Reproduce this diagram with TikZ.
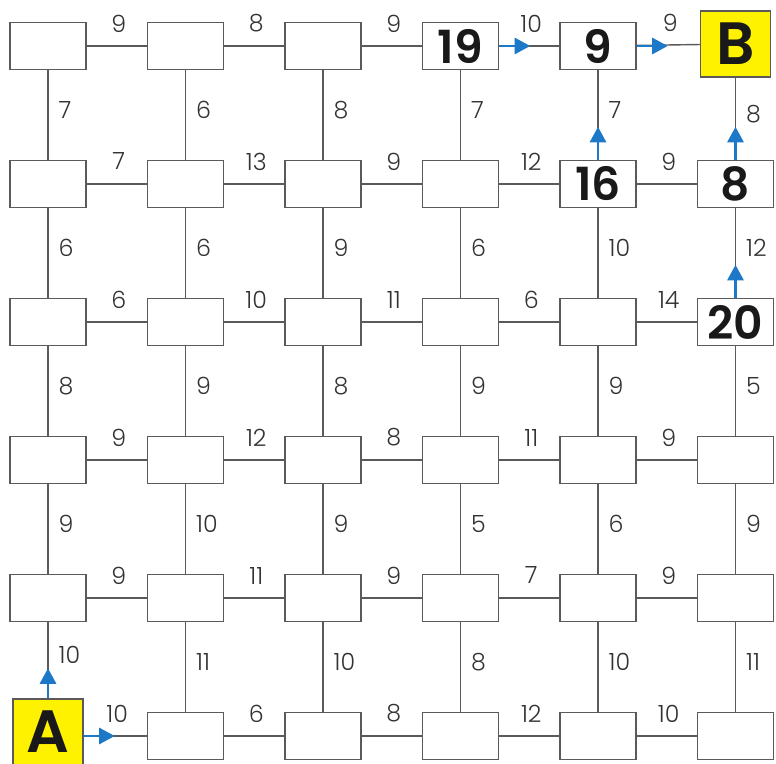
\documentclass[tikz,border=0pt]{standalone}
\usepackage{fontspec}
\setmainfont{Poppins}[UprightFont=*-Light, BoldFont=*-SemiBold]
\usetikzlibrary{arrows.meta}
\definecolor{pathblue}{HTML}{1E78C8}
\definecolor{gridgray}{HTML}{5A5A5A}
\definecolor{goalyellow}{HTML}{FFF200}

\begin{document}
\begin{tikzpicture}[
    cell/.style={draw=gridgray, line width=0.8pt, fill=white,
        minimum width=1.52cm, minimum height=0.94cm, inner sep=0pt,
        font=\fontsize{26}{28}\selectfont\bfseries, text=black!90},
    goal/.style={cell, fill=goalyellow, minimum width=1.4cm, minimum height=1.32cm,
        font=\fontsize{34}{38}\selectfont\bfseries},
    edge/.style={draw=gridgray, line width=0.8pt},
    hw/.style={inner sep=0pt, anchor=center, yshift=0.45cm, xshift=0.04cm,
        font=\fontsize{13.5}{15}\selectfont, text=black!80},
    vw/.style={inner sep=0pt, anchor=west, xshift=0.2cm, yshift=0.1cm,
        font=\fontsize{13.5}{15}\selectfont, text=black!80},
    route/.style={draw=pathblue, line width=1.6pt, -{Triangle[length=3.1mm,width=3.2mm]}}
    ]
    \useasboundingbox (0,0) rectangle (15.52,15.26);

    % top row
    \node[cell] (a6) at (0.96,14.34) {};
    \node[cell] (b6) at (3.71,14.34) {};
    \node[cell] (c6) at (6.46,14.34) {};
    \node[cell] (d6) at (9.21,14.34) {19};
    \node[cell] (e6) at (11.96,14.34) {9};
    \node[goal] (f6) at (14.71,14.38) {B};

    \node[cell] (a5) at (0.96,11.58) {};
    \node[cell] (b5) at (3.71,11.58) {};
    \node[cell] (c5) at (6.46,11.58) {};
    \node[cell] (d5) at (9.21,11.58) {};
    \node[cell] (e5) at (11.96,11.58) {16};
    \node[cell] (f5) at (14.71,11.58) {8};

    \node[cell] (a4) at (0.96,8.82) {};
    \node[cell] (b4) at (3.71,8.82) {};
    \node[cell] (c4) at (6.46,8.82) {};
    \node[cell] (d4) at (9.21,8.82) {};
    \node[cell] (e4) at (11.96,8.82) {};
    \node[cell] (f4) at (14.71,8.82) {20};

    \node[cell] (a3) at (0.96,6.06) {};
    \node[cell] (b3) at (3.71,6.06) {};
    \node[cell] (c3) at (6.46,6.06) {};
    \node[cell] (d3) at (9.21,6.06) {};
    \node[cell] (e3) at (11.96,6.06) {};
    \node[cell] (f3) at (14.71,6.06) {};

    \node[cell] (a2) at (0.96,3.30) {};
    \node[cell] (b2) at (3.71,3.30) {};
    \node[cell] (c2) at (6.46,3.30) {};
    \node[cell] (d2) at (9.21,3.30) {};
    \node[cell] (e2) at (11.96,3.30) {};
    \node[cell] (f2) at (14.71,3.30) {};

    % bottom row
    \node[goal] (a1) at (0.96,0.62) {A};
    \node[cell] (b1) at (3.71,0.54) {};
    \node[cell] (c1) at (6.46,0.54) {};
    \node[cell] (d1) at (9.21,0.54) {};
    \node[cell] (e1) at (11.96,0.54) {};
    \node[cell] (f1) at (14.71,0.54) {};

    % horizontal edges
    \draw[edge] (a6) -- node[hw]{9} (b6);
    \draw[edge] (b6) -- node[hw]{8} (c6);
    \draw[edge] (c6) -- node[hw]{9} (d6);
    \draw[edge] (d6) -- node[hw]{10} (e6);
    \draw[edge] (e6) -- node[hw]{9} (f6);

    \draw[edge] (a5) -- node[hw]{7} (b5);
    \draw[edge] (b5) -- node[hw]{13} (c5);
    \draw[edge] (c5) -- node[hw]{9} (d5);
    \draw[edge] (d5) -- node[hw]{12} (e5);
    \draw[edge] (e5) -- node[hw]{9} (f5);

    \draw[edge] (a4) -- node[hw]{6} (b4);
    \draw[edge] (b4) -- node[hw]{10} (c4);
    \draw[edge] (c4) -- node[hw]{11} (d4);
    \draw[edge] (d4) -- node[hw]{6} (e4);
    \draw[edge] (e4) -- node[hw]{14} (f4);

    \draw[edge] (a3) -- node[hw]{9} (b3);
    \draw[edge] (b3) -- node[hw]{12} (c3);
    \draw[edge] (c3) -- node[hw]{8} (d3);
    \draw[edge] (d3) -- node[hw]{11} (e3);
    \draw[edge] (e3) -- node[hw]{9} (f3);

    \draw[edge] (a2) -- node[hw]{9} (b2);
    \draw[edge] (b2) -- node[hw]{11} (c2);
    \draw[edge] (c2) -- node[hw]{9} (d2);
    \draw[edge] (d2) -- node[hw]{7} (e2);
    \draw[edge] (e2) -- node[hw]{9} (f2);

    \draw[edge] (a1.east |- b1) -- node[hw]{10} (b1);
    \draw[edge] (b1) -- node[hw]{6} (c1);
    \draw[edge] (c1) -- node[hw]{8} (d1);
    \draw[edge] (d1) -- node[hw]{12} (e1);
    \draw[edge] (e1) -- node[hw]{10} (f1);

    % vertical edges
    \draw[edge] (a5) -- node[vw]{7} (a6);
    \draw[edge] (b5) -- node[vw]{6} (b6);
    \draw[edge] (c5) -- node[vw]{8} (c6);
    \draw[edge] (d5) -- node[vw]{7} (d6);
    \draw[edge] (e5) -- node[vw]{7} (e6);
    \draw[edge] (f5) -- node[vw]{8} (f6);

    \draw[edge] (a4) -- node[vw]{6} (a5);
    \draw[edge] (b4) -- node[vw]{6} (b5);
    \draw[edge] (c4) -- node[vw]{9} (c5);
    \draw[edge] (d4) -- node[vw]{6} (d5);
    \draw[edge] (e4) -- node[vw]{10} (e5);
    \draw[edge] (f4) -- node[vw]{12} (f5);

    \draw[edge] (a3) -- node[vw]{8} (a4);
    \draw[edge] (b3) -- node[vw]{9} (b4);
    \draw[edge] (c3) -- node[vw]{8} (c4);
    \draw[edge] (d3) -- node[vw]{9} (d4);
    \draw[edge] (e3) -- node[vw]{9} (e4);
    \draw[edge] (f3) -- node[vw]{5} (f4);

    \draw[edge] (a2) -- node[vw]{9} (a3);
    \draw[edge] (b2) -- node[vw]{10} (b3);
    \draw[edge] (c2) -- node[vw]{9} (c3);
    \draw[edge] (d2) -- node[vw]{5} (d3);
    \draw[edge] (e2) -- node[vw]{6} (e3);
    \draw[edge] (f2) -- node[vw]{9} (f3);

    \draw[edge] (a1) -- node[vw]{10} (a2);
    \draw[edge] (b1) -- node[vw]{11} (b2);
    \draw[edge] (c1) -- node[vw]{10} (c2);
    \draw[edge] (d1) -- node[vw]{8} (d2);
    \draw[edge] (e1) -- node[vw]{10} (e2);
    \draw[edge] (f1) -- node[vw]{11} (f2);

    % shortest route
    \draw[route] (a1.north) -- ++(0,0.6);
    \draw[route] (a1.east |- b1) -- ++(0.62,0);
    \draw[route] (f4.north) -- ++(0,0.66);
    \draw[route] (f5.north) -- ++(0,0.66);
    \draw[route] (e5.north) -- ++(0,0.66);
    \draw[route] (d6.east) -- ++(0.62,0);
    \draw[route] (e6.east) -- ++(0.62,0);

\end{tikzpicture}
\end{document}
